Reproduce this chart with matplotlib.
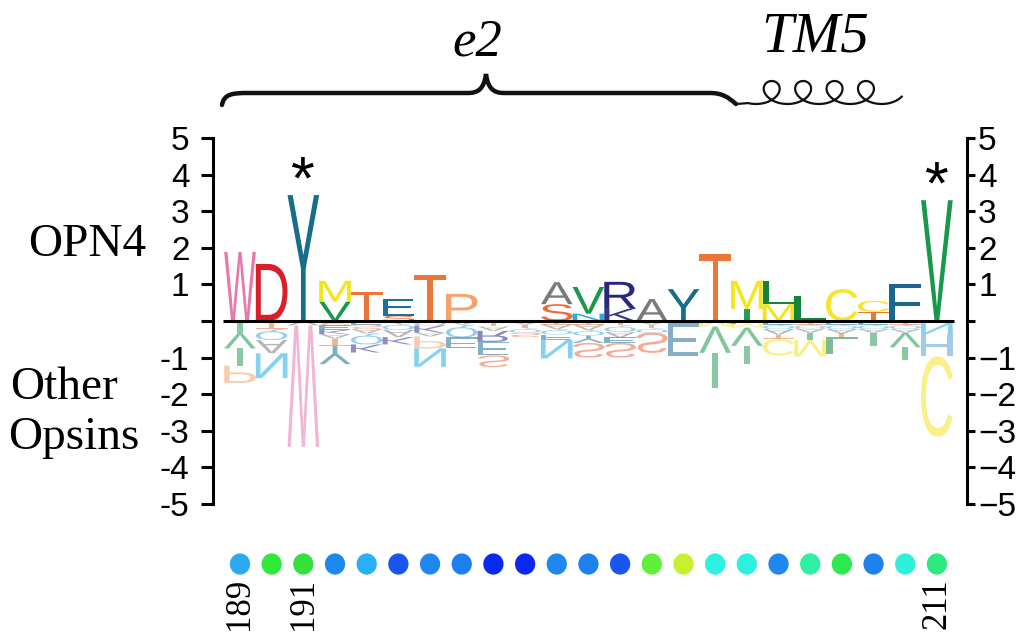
import numpy as np
import matplotlib
matplotlib.use("Agg")
import matplotlib.pyplot as plt
from matplotlib.textpath import TextPath
from matplotlib.font_manager import FontProperties
from matplotlib.patches import PathPatch, Ellipse
from matplotlib.path import Path
from matplotlib.transforms import Affine2D

# ---------------- data ----------------
residues = list(range(189, 212))
labeled_residues = [189, 191, 211]
starred_residues = [191, 211]

# OPN4 (positive) stacks, listed from the zero line upward
opn4_letters = ["W", "D", "Y", "VM", "T", "SE", "T", "P", "", "", "SA", "NV", "KR",
                "A", "Y", "T", "IM", "ML", "L", "C", "TC", "F", "V"]
opn4_heights = [[1.89], [1.56], [3.44], [0.53, 0.57], [0.80], [0.14, 0.46], [1.26],
                [0.74], [], [], [0.46, 0.60], [0.20, 0.73], [0.33, 0.74], [0.60],
                [0.87], [1.83], [0.33, 0.77], [0.46, 0.62], [0.68], [0.87],
                [0.25, 0.30], [1.00], [3.30]]

# Other opsins (negative) stacks, listed from the zero line downward
other_letters = ["IVIP", "TQAN", "VW", "SEKATY", "ESAQK", "TQAK", "QKAPN", "AQE",
                 "TARES", "ATQS", "TAQEN", "TAQYS", "TQAES", "ATQS", "TE", "MVI",
                 "EMVI", "EQATC", "TQAIM", "EQATL", "EQAI", "TQAVI", "ENHC"]
other_heights = [[0.33, 0.42, 0.47, 0.47], [0.22, 0.30, 0.36, 0.68], [0.12, 3.32],
                 [0.12, 0.12, 0.12, 0.12, 0.20, 0.50], [0.10, 0.12, 0.12, 0.30, 0.22],
                 [0.08, 0.16, 0.20, 0.20], [0.12, 0.20, 0.10, 0.33, 0.50],
                 [0.10, 0.35, 0.30], [0.15, 0.12, 0.30, 0.37, 0.32],
                 [0.10, 0.10, 0.12, 0.12], [0.10, 0.12, 0.15, 0.15, 0.50],
                 [0.10, 0.15, 0.15, 0.20, 0.40], [0.12, 0.18, 0.15, 0.15, 0.40],
                 [0.10, 0.10, 0.12, 0.55], [0.06, 0.90], [0.15, 0.72, 0.95],
                 [0.08, 0.10, 0.50, 0.50], [0.10, 0.12, 0.15, 0.12, 0.45],
                 [0.10, 0.10, 0.12, 0.20, 0.45], [0.10, 0.12, 0.12, 0.10, 0.45],
                 [0.10, 0.12, 0.10, 0.35], [0.10, 0.12, 0.10, 0.40, 0.35],
                 [0.06, 0.30, 0.60, 2.20]]

dot_colors = ["#2aaaf2", "#2ee83a", "#36e03a", "#1f88f0", "#27b0f5", "#1a55f0",
              "#1f88f0", "#1e80f0", "#0a2af0", "#0a28f0", "#1f88f0", "#1f80f0",
              "#1a55f0", "#5ef03a", "#c8f030", "#2ef0e0", "#2ef0e0", "#1f88f0",
              "#2ef0a0", "#2ee850", "#1f80f0", "#2ef0d8", "#2ee880"]

yticks = list(range(-5, 6))

letter_colors = {
    "W": "#e57aad", "D": "#d81f2a", "Y": "#176d8c", "M": "#f3e51c", "V": "#18984a",
    "T": "#ea7637", "E": "#1f6f99", "P": "#f4a36f", "A": "#7a7a7a", "S": "#eb6a3d",
    "N": "#22aee0", "R": "#27287e", "K": "#35358a", "L": "#13843a", "C": "#f5e42a",
    "F": "#1a6690", "I": "#2a9a58", "Q": "#4aa8d8", "H": "#5a9fd4", "G": "#f2a97a",
}

# ---------------- figure ----------------
W, H = 1017, 639
fig = plt.figure(figsize=(W / 100, H / 100), dpi=100)
fig.patch.set_facecolor("white")

ax = fig.add_axes([213 / W, 1 - 504 / H, (967 - 213) / W, (504 - 138) / H])
ax.set_xlim(-0.852, 22.95)
ax.set_ylim(-5, 5)
ax.patch.set_alpha(0)

fp = FontProperties(family="Liberation Sans")


def draw_letter(ch, x, y0, h, color, alpha=1.0, flip=False):
    tp = TextPath((0, 0), ch, size=1, prop=fp)
    bb = tp.get_extents()
    w = 0.2 if ch == "I" else 1.0
    sy = h / bb.height
    if flip:
        sy = -sy
    t = (Affine2D().translate(-bb.x0 - bb.width / 2, -bb.y0)
         .scale(w / bb.width, sy).translate(x, y0))
    ax.add_patch(PathPatch(t.transform_path(tp), fc=color, ec="none",
                           alpha=alpha, lw=0, zorder=2))


positions = np.arange(len(residues))
for i in positions:
    cum = 0.0
    for ch, h in zip(opn4_letters[i], opn4_heights[i]):
        draw_letter(ch, i, cum, h, letter_colors[ch])
        cum += h
    cum = 0.0
    for ch, h in zip(other_letters[i], other_heights[i]):
        draw_letter(ch, i, -cum, h, letter_colors[ch], alpha=0.55, flip=True)
        cum += h

# zero line
ax.plot([-0.55, 22.55], [0, 0], color="black", lw=2.2, zorder=5,
        solid_capstyle="butt")

# asterisks
for r in starred_residues:
    i = residues.index(r)
    top = sum(opn4_heights[i])
    ax.text(i, top - 0.1, "*", ha="center", va="baseline",
            fontsize=44, family="Liberation Sans", color="black")

# conservation dots and residue labels
dot_y = -6.64
for i, c in zip(positions, dot_colors):
    ax.add_patch(Ellipse((i, dot_y), 0.64, 0.58, color=c, clip_on=False, lw=0))
for r in labeled_residues:
    i = residues.index(r)
    ax.text(i, -7.02, str(r), rotation=90, ha="center", va="top",
            fontsize=25, family="Liberation Serif", clip_on=False)

# axes styling
for s in ["top", "bottom", "right"]:
    ax.spines[s].set_visible(False)
ax.spines["left"].set_linewidth(2.2)
ax.set_xticks([])
ax.set_yticks(yticks)
ax.set_yticklabels([("" if v == 0 else str(v)) for v in yticks],
                   family="Liberation Sans", fontsize=24)
ax.tick_params(axis="y", length=9, width=2.2, pad=8)

ax2 = ax.twinx()
ax2.set_ylim(-5, 5)
for s in ["top", "bottom", "left"]:
    ax2.spines[s].set_visible(False)
ax2.spines["right"].set_linewidth(2.2)
ax2.set_yticks(yticks)
ax2.set_yticklabels([("" if v == 0 else str(v).replace("-", "\u2212")) for v in yticks],
                    family="Liberation Sans", fontsize=24)
ax2.tick_params(axis="y", length=6, width=2.2, pad=2)
ax2.set_xticks([])

# ---------------- overlay (annotations in pixel space) ----------------
ov = fig.add_axes([0, 0, 1, 1])
ov.set_xlim(0, W)
ov.set_ylim(H, 0)
ov.axis("off")
ov.patch.set_alpha(0)

serif = "Liberation Serif"
ov.text(28, 256, "OPN4", fontsize=34, family=serif, va="baseline", ha="left")
ov.text(10, 399, "Other", fontsize=34, family=serif, va="baseline", ha="left")
ov.text(8, 449, "Opsins", fontsize=34, family=serif, va="baseline", ha="left")

ov.text(477, 55, "e2", fontsize=38, family=serif, style="italic", ha="center",
        va="baseline")
ov.text(815, 52, "TM5", fontsize=41, family=serif, style="italic", ha="center",
        va="baseline")

# curly brace
verts = [(222, 105), (224, 94), (232, 93), (248, 93),
         (468, 93),
         (478, 93), (484, 89), (486, 74),
         (488, 89), (494, 93), (504, 93),
         (710, 93),
         (722, 93), (728, 97), (736, 104)]
codes = [Path.MOVETO, Path.CURVE4, Path.CURVE4, Path.CURVE4,
         Path.LINETO,
         Path.CURVE4, Path.CURVE4, Path.CURVE4,
         Path.CURVE4, Path.CURVE4, Path.CURVE4,
         Path.LINETO,
         Path.CURVE4, Path.CURVE4, Path.CURVE4]
ov.add_patch(PathPatch(Path(verts, codes), fc="none", ec="#111111", lw=3.2,
                       capstyle="round"))

# helix (4 turns)
t = np.linspace(-0.4, 8 * np.pi + 1.2, 900)
hx = 756 + 5.0 * t + 15 * np.sin(t)
hy = 104 - 11.5 * (1 - np.cos(t))
hx = np.concatenate([[736], hx])
hy = np.concatenate([[104], hy])
ov.plot(hx, hy, color="#111111", lw=1.6)

fig.savefig("out.png", dpi=100, facecolor="white")
